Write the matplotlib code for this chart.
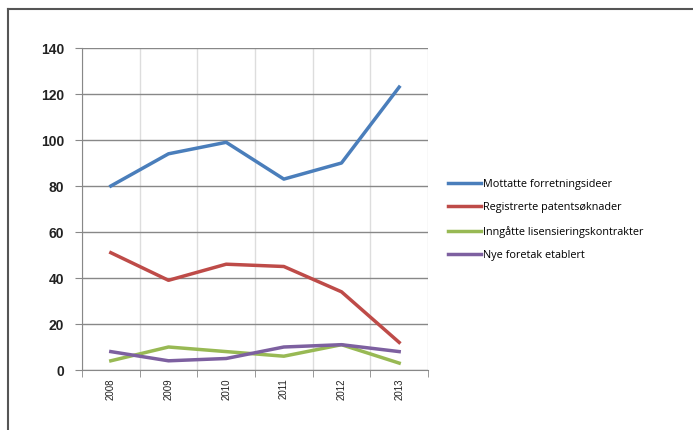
import numpy as np
import matplotlib.pyplot as plt
from matplotlib.lines import Line2D

years = ['2008', '2009', '2010', '2011', '2012', '2013']
ideer = [80, 94, 99, 83, 90, 123]
patent = [51, 39, 46, 45, 34, 12]
lisens = [4, 10, 8, 6, 11, 3]
foretak = [8, 4, 5, 10, 11, 8]

labels = ['Mottatte forretningsideer', 'Registrerte patentsøknader',
          'Inngåtte lisensieringskontrakter', 'Nye foretak etablert']
colors = ['#4a7ebb', '#be4b48', '#98b954', '#7d60a0']

fig = plt.figure(figsize=(6.93, 4.30), dpi=100)
# ytre ramme (bare venstre og topp synlig)
fig.add_artist(Line2D([8/693, 8/693], [0, 1 - 9/430], color='#555555', lw=1.5))
fig.add_artist(Line2D([8/693, 1], [1 - 9/430, 1 - 9/430], color='#555555', lw=1.5))

ax = fig.add_axes([82/693, 60/430, 346/693, 322/430])
x = np.arange(len(years))
for s, c, l in zip([ideer, patent, lisens, foretak], colors, labels):
    ax.plot(x, s, color=c, lw=2.5, label=l)

ax.set_xlim(-0.5, 5.5)
ax.set_ylim(0, 140)
ax.set_yticks(range(0, 141, 20))
ax.set_yticklabels([str(v) for v in range(0, 141, 20)], fontsize=10,
                   fontweight='bold', color='#222222', family='Liberation Sans')
ax.set_xticks(x)
ax.set_xticklabels(years, rotation=90, fontsize=7, color='#222222', family='Liberation Sans')
ax.set_xticks(np.arange(-0.5, 6, 1), minor=True)
ax.tick_params(axis='x', which='major', length=0, pad=6)
ax.tick_params(axis='x', which='minor', length=5, color='#888888', direction='out')
ax.tick_params(axis='y', length=5, color='#888888', direction='out', pad=8)

ax.grid(axis='y', color='#888888', lw=1)
ax.grid(axis='x', which='minor', color='#dddddd', lw=1)
ax.set_axisbelow(True)
for side in ['top', 'right']:
    ax.spines[side].set_visible(False)
for side in ['left', 'bottom']:
    ax.spines[side].set_color('#888888')

ax.legend(loc='center left', bbox_to_anchor=(1.03, 0.466), frameon=False,
          prop={'family': 'Open Sans', 'size': 7.8}, handlelength=3.0,
          handletextpad=0.2, labelspacing=1.15)

plt.savefig('out.png', dpi=100)
